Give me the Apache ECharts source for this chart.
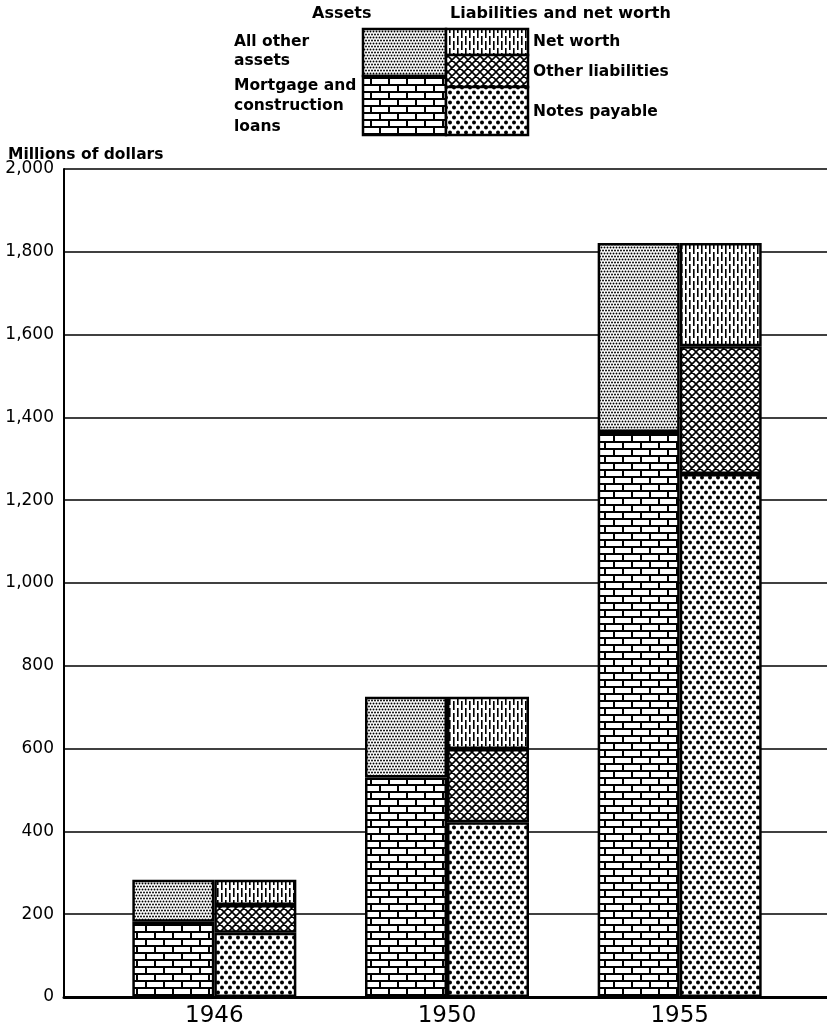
<!DOCTYPE html>
<html>
<head>
<meta charset="utf-8">
<script src="https://cdn.jsdelivr.net/npm/echarts@6/dist/echarts.min.js"></script>
<style>
html,body{margin:0;padding:0;background:#fff;}
#c{width:827px;height:1030px;}
</style>
</head>
<body>
<div id="c"></div>
<script>
// ---- data (millions of dollars) ----
const years = ['1946', '1950', '1955'];
const mortgageLoans = [182, 530, 1365];
const otherAssets = [101, 195, 456];
const notesPayable = [155, 422, 1263];
const otherLiabilities = [67, 177, 309];
const netWorth = [61, 126, 249];
const yTicks = [0, 200, 400, 600, 800, 1000, 1200, 1400, 1600, 1800, 2000];

// ---- hatch patterns ----
function mk(w, h, draw) {
  const c = document.createElement('canvas');
  c.width = w; c.height = h;
  const g = c.getContext('2d');
  g.fillStyle = '#fff'; g.fillRect(0, 0, w, h);
  g.fillStyle = '#000'; g.strokeStyle = '#000';
  draw(g);
  return { image: c, repeat: 'repeat' };
}
function dot(g, x, y, r) { g.beginPath(); g.arc(x, y, r, 0, Math.PI * 2); g.fill(); }

const patStipple = mk(6, 6, g => {
  [[1.5,1.5],[4.5,1.5],[0,4.5],[3,4.5],[6,4.5]].forEach(p => dot(g, p[0], p[1], 0.95));
});
const patBrick = mk(18, 14, g => {
  g.fillRect(0, 0, 18, 2);
  g.fillRect(0, 7, 18, 2);
  g.fillRect(1, 0, 2, 7);
  g.fillRect(10, 7, 2, 7);
});
const patVDash = mk(8, 12, g => {
  g.fillRect(1, 0, 1.6, 9);
  g.fillRect(5, 5, 1.6, 7);
  g.fillRect(5, 0, 1.6, 2);
});
const patCross = mk(8, 8, g => {
  g.lineWidth = 1.6;
  g.beginPath();
  g.moveTo(-1, -1); g.lineTo(9, 9);
  g.moveTo(9, -1); g.lineTo(-1, 9);
  g.moveTo(-1, 7); g.lineTo(1, 9);
  g.moveTo(7, -1); g.lineTo(9, 1);
  g.moveTo(-1, 1); g.lineTo(1, -1);
  g.moveTo(7, 9); g.lineTo(9, 7);
  g.stroke();
});
const patDots = mk(8, 10, g => {
  dot(g, 2, 2.5, 2);
  dot(g, 6, 7.5, 2);
});

const FONT = 'DejaVu Sans';
const chart = echarts.init(document.getElementById('c'), null, { renderer: 'canvas' });

function barSeries(name, data, stack, pat) {
  return {
    name: name, type: 'bar', stack: stack, data: data,
    xAxisIndex: 1, yAxisIndex: 1,
    barWidth: 82, barGap: '0%',
    itemStyle: { color: pat, borderColor: '#000', borderWidth: 2.5 },
    emphasis: { disabled: true }
  };
}

function lt(x, y, text, size, weight, align) {
  return { type: 'text', left: x, top: y, style: { text: text, font: (weight || 'bold') + ' ' + size + 'px "' + FONT + '"', fill: '#000', textAlign: align || 'left', textVerticalAlign: 'middle' } };
}
function lrect(x, y, w, h, pat) {
  return { type: 'rect', shape: { x: x, y: y, width: w, height: h }, style: { fill: pat, stroke: '#000', lineWidth: 2.5 }, z: 10 };
}

const option = {
  animation: false,
  backgroundColor: '#fff',
  grid: [
    { left: 64, right: 0, top: 169, bottom: 33 },
    { left: 98, right: 31, top: 169, bottom: 33 }
  ],
  xAxis: [
    { gridIndex: 0, type: 'category', data: [''], axisLine: { show: true, lineStyle: { color: '#000', width: 3 } }, axisTick: { show: false }, axisLabel: { show: false } },
    { gridIndex: 1, type: 'category', data: years,
      axisLine: { show: false }, axisTick: { show: false },
      axisLabel: { color: '#000', fontFamily: FONT, fontSize: 23, margin: 8 } }
  ],
  yAxis: [
    { gridIndex: 0, type: 'value', min: 0, max: 2000, interval: 200,
      axisLine: { show: true, lineStyle: { color: '#000', width: 2 } },
      axisTick: { show: false },
      splitLine: { show: true, lineStyle: { color: '#000', width: 1.5 } },
      axisLabel: { color: '#000', fontFamily: FONT, fontSize: 17, margin: 10,
        formatter: v => yTicks.indexOf(v) >= 0 ? v.toLocaleString('en-US') : '' } },
    { gridIndex: 1, type: 'value', min: 0, max: 2000, interval: 200, show: false, splitLine: { show: false } }
  ],
  series: [
    barSeries('Mortgage and construction loans', mortgageLoans, 'assets', patBrick),
    barSeries('All other assets', otherAssets, 'assets', patStipple),
    barSeries('Notes payable', notesPayable, 'liab', patDots),
    barSeries('Other liabilities', otherLiabilities, 'liab', patCross),
    barSeries('Net worth', netWorth, 'liab', patVDash)
  ],
  graphic: [
    lt(8, 147, 'Millions of dollars', 15.5),
    lt(312, 6, 'Assets', 16),
    lt(450, 6, 'Liabilities and net worth', 16),
    lt(234, 34, 'All other', 15.5),
    lt(234, 53, 'assets', 15.5),
    lt(234, 78, 'Mortgage and', 15.5),
    lt(234, 98, 'construction', 15.5),
    lt(234, 119, 'loans', 15.5),
    lt(533, 34, 'Net worth', 15.5),
    lt(533, 64, 'Other liabilities', 15.5),
    lt(533, 104, 'Notes payable', 15.5),
    lrect(363, 29, 83, 47, patStipple),
    lrect(363, 76, 83, 59, patBrick),
    lrect(446, 29, 82, 26, patVDash),
    lrect(446, 55, 82, 32, patCross),
    lrect(446, 87, 82, 48, patDots)
  ]
};
chart.setOption(option);
</script>
</body>
</html>
